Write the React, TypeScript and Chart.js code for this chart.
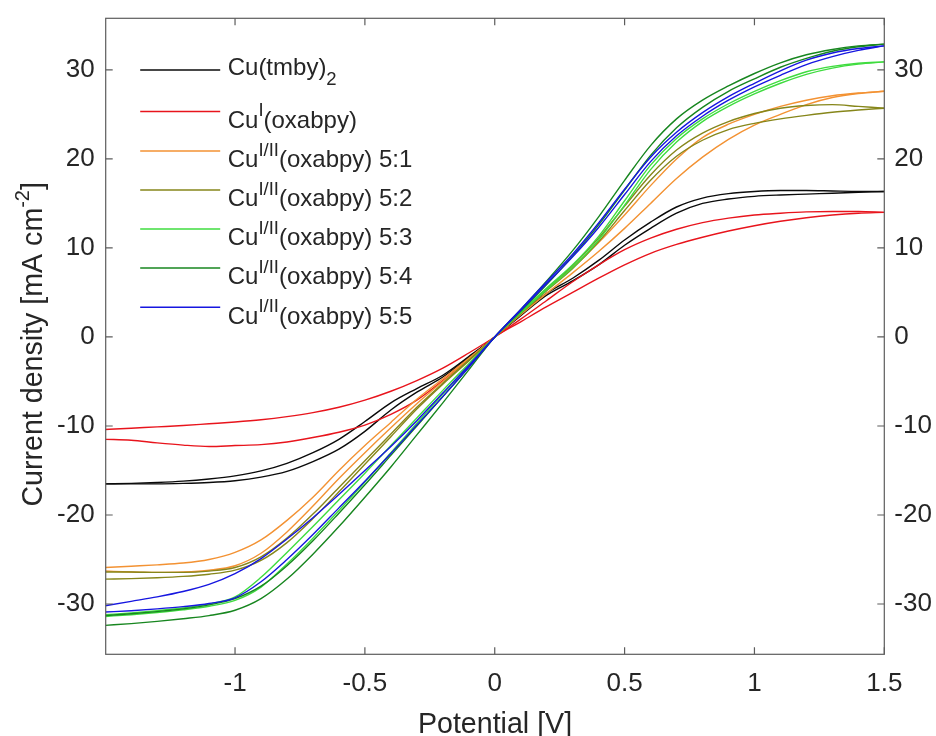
import React, { useEffect, useRef } from 'react';
import { Chart, registerables } from 'chart.js';

Chart.register(...registerables);

// ---------- data ----------
const potential = [
  -1.5, -1.4, -1.3, -1.2, -1.1, -1.0, -0.9, -0.8, -0.7, -0.6, -0.5, -0.4, -0.3, -0.2, -0.1, 0,
  0.1, 0.2, 0.3, 0.4, 0.5, 0.6, 0.7, 0.8, 0.9, 1.0, 1.1, 1.2, 1.3, 1.4, 1.5,
];

const seriesLabels = [
  'Cu(tmby)_2',
  'Cu^I(oxabpy)',
  'Cu^{I/II}(oxabpy) 5:1',
  'Cu^{I/II}(oxabpy) 5:2',
  'Cu^{I/II}(oxabpy) 5:3',
  'Cu^{I/II}(oxabpy) 5:4',
  'Cu^{I/II}(oxabpy) 5:5',
];

const seriesColors = ['#0a0a0a', '#e8141c', '#f39233', '#86861a', '#3fdc3f', '#17861f', '#1616e0'];

const tmbyForward = [-16.5, -16.45, -16.35, -16.2, -15.95, -15.6, -15.05, -14.2, -13.0, -11.5, -9.5, -7.4, -5.8, -4.3, -2.2, 0,
  2.5, 4.9, 6.6, 8.6, 10.9, 12.9, 14.6, 15.6, 16.1, 16.35, 16.45, 16.45, 16.4, 16.35, 16.35];
const tmbyReverse = [-16.5, -16.5, -16.5, -16.45, -16.35, -16.15, -15.75, -15.1, -14.0, -12.6, -10.6, -8.2, -6.2, -4.5, -2.3, 0,
  2.4, 4.7, 6.3, 8.1, 10.3, 12.2, 13.9, 15.0, 15.5, 15.8, 15.95, 16.05, 16.15, 16.25, 16.35];

const oxabpyForward = [-10.4, -10.25, -10.1, -9.95, -9.75, -9.55, -9.3, -8.95, -8.5, -7.9, -7.1, -6.1, -4.9, -3.5, -1.8, 0,
  2.0, 4.1, 6.2, 8.1, 9.8, 11.1, 12.1, 12.85, 13.35, 13.7, 13.9, 14.05, 14.1, 14.1, 14.0];
const oxabpyReverse = [-11.5, -11.6, -11.9, -12.15, -12.3, -12.2, -12.1, -11.8, -11.3, -10.7, -9.9, -8.7, -7.1, -4.9, -2.5, 0,
  1.7, 3.4, 5.0, 6.6, 8.1, 9.4, 10.4, 11.2, 11.9, 12.5, 13.0, 13.4, 13.7, 13.9, 14.0];

const ratio51Forward = [-25.9, -25.75, -25.6, -25.4, -25.0, -24.2, -22.8, -20.6, -18.0, -15.0, -12.2, -9.6, -7.0, -4.7, -2.4, 0,
  2.7, 5.3, 7.8, 10.6, 13.7, 17.0, 20.0, 22.4, 23.9, 25.0, 25.9, 26.6, 27.1, 27.4, 27.6];
const ratio51Reverse = [-26.3, -26.4, -26.45, -26.4, -26.2, -25.7, -24.3, -21.9, -19.0, -15.9, -13.0, -10.2, -7.5, -5.0, -2.5, 0,
  2.5, 4.9, 7.2, 9.6, 12.2, 15.0, 17.8, 20.2, 22.2, 23.8, 25.0, 26.1, 26.9, 27.35, 27.6];

const ratio52Forward = [-26.4, -26.4, -26.45, -26.45, -26.3, -25.9, -24.7, -22.6, -19.9, -16.9, -13.9, -10.9, -7.9, -5.2, -2.6, 0,
  2.7, 5.4, 8.0, 11.1, 14.7, 18.2, 21.0, 22.9, 24.2, 25.1, 25.7, 26.0, 26.1, 25.9, 25.7];
const ratio52Reverse = [-27.2, -27.15, -27.05, -26.9, -26.65, -26.2, -25.1, -23.1, -20.4, -17.4, -14.3, -11.2, -8.1, -5.3, -2.7, 0,
  2.6, 5.2, 7.7, 10.7, 14.2, 17.6, 20.3, 22.1, 23.3, 24.0, 24.5, 24.9, 25.25, 25.5, 25.7];

const ratio53Forward = [-31.2, -31.0, -30.75, -30.45, -30.0, -29.2, -27.0, -24.2, -21.3, -18.3, -15.3, -12.2, -9.1, -6.0, -3.0, 0,
  2.8, 5.5, 8.1, 11.3, 15.3, 19.3, 22.3, 24.5, 26.2, 27.6, 28.8, 29.8, 30.4, 30.75, 30.9];
const ratio53Reverse = [-31.4, -31.2, -30.95, -30.65, -30.25, -29.6, -28.1, -25.5, -22.6, -19.5, -16.3, -13.0, -9.7, -6.4, -3.2, 0,
  2.7, 5.3, 7.8, 10.9, 14.8, 18.8, 21.9, 24.2, 25.9, 27.3, 28.5, 29.5, 30.2, 30.65, 30.9];

const ratio54Forward = [-31.3, -31.1, -30.85, -30.55, -30.1, -29.4, -28.0, -25.7, -22.9, -19.8, -16.6, -13.3, -10.0, -6.7, -3.4, 0,
  3.1, 6.3, 9.7, 13.5, 17.6, 21.5, 24.5, 26.6, 28.2, 29.6, 30.8, 31.7, 32.3, 32.7, 32.9];
const ratio54Reverse = [-32.4, -32.2, -31.95, -31.65, -31.3, -30.7, -29.4, -27.2, -24.4, -21.3, -18.0, -14.6, -11.0, -7.4, -3.7, 0,
  2.9, 5.9, 9.1, 12.6, 16.5, 20.4, 23.5, 25.8, 27.6, 29.0, 30.3, 31.3, 32.1, 32.6, 32.9];

const ratio55Forward = [-30.2, -29.7, -29.2, -28.6, -27.8, -26.6, -24.9, -22.7, -20.3, -17.7, -15.0, -12.3, -9.4, -6.3, -3.2, 0,
  3.1, 6.2, 9.3, 12.8, 16.6, 20.2, 23.0, 25.2, 27.0, 28.5, 29.9, 31.1, 31.9, 32.4, 32.7];
const ratio55Reverse = [-30.9, -30.75, -30.55, -30.3, -29.95, -29.3, -27.5, -25.0, -22.2, -19.2, -16.2, -13.1, -9.9, -6.7, -3.4, 0,
  3.0, 6.0, 9.0, 12.3, 16.0, 19.7, 22.6, 24.8, 26.6, 28.1, 29.4, 30.6, 31.5, 32.2, 32.7];

const seriesSweeps = [
  [tmbyForward, tmbyReverse],
  [oxabpyForward, oxabpyReverse],
  [ratio51Forward, ratio51Reverse],
  [ratio52Forward, ratio52Reverse],
  [ratio53Forward, ratio53Reverse],
  [ratio54Forward, ratio54Reverse],
  [ratio55Forward, ratio55Reverse],
];

const xTickValues = [-1, -0.5, 0, 0.5, 1, 1.5];
const yTickValues = [-30, -20, -10, 0, 10, 20, 30];
const xRange = [-1.498, 1.5];
const yRange = [-35.65, 35.8];
const xAxisTitle = 'Potential [V]';
const yAxisTitle = 'Current density [mA cm^{-2}]';

// ---------- helpers ----------
const FONT = "'Liberation Sans', Arial, Helvetica, sans-serif";
const TEXT_COLOR = '#262626';
const AXIS_COLOR = '#5c5c5c';

type Seg = { t: string; k: 'n' | 'sup' | 'sub' };

function parseRich(s: string): Seg[] {
  const out: Seg[] = [];
  let buf = '';
  let i = 0;
  while (i < s.length) {
    const c = s[i];
    if (c === '^' || c === '_') {
      if (buf) { out.push({ t: buf, k: 'n' }); buf = ''; }
      const k = c === '^' ? 'sup' : 'sub';
      if (s[i + 1] === '{') {
        const j = s.indexOf('}', i + 2);
        out.push({ t: s.slice(i + 2, j), k });
        i = j + 1;
      } else {
        out.push({ t: s[i + 1], k });
        i += 2;
      }
    } else {
      buf += c;
      i++;
    }
  }
  if (buf) out.push({ t: buf, k: 'n' });
  return out;
}

function richWidth(ctx: CanvasRenderingContext2D, segs: Seg[], base: number, script: number) {
  let w = 0;
  for (const s of segs) {
    ctx.font = `${s.k === 'n' ? base : script}px ${FONT}`;
    w += ctx.measureText(s.t).width;
  }
  return w;
}

function drawRich(ctx: CanvasRenderingContext2D, segs: Seg[], x: number, y: number,
  base: number, script: number, rise: number, drop: number) {
  let cx = x;
  for (const s of segs) {
    ctx.font = `${s.k === 'n' ? base : script}px ${FONT}`;
    const dy = s.k === 'sup' ? -rise : s.k === 'sub' ? drop : 0;
    ctx.fillText(s.t, cx, y + dy);
    cx += ctx.measureText(s.t).width;
  }
}

const framePlugin = {
  id: 'matlabFrame',
  afterDraw(chart: any) {
    const { ctx, chartArea: a, scales } = chart;
    const xs = scales.x;
    const ys = scales.y;
    ctx.save();
    // box
    ctx.strokeStyle = AXIS_COLOR;
    ctx.lineWidth = 1.2;
    ctx.strokeRect(a.left, a.top, a.right - a.left, a.bottom - a.top);
    // inward ticks
    const tl = 7;
    ctx.beginPath();
    for (const v of xTickValues) {
      const px = xs.getPixelForValue(v);
      ctx.moveTo(px, a.bottom); ctx.lineTo(px, a.bottom - tl);
      ctx.moveTo(px, a.top); ctx.lineTo(px, a.top + tl);
    }
    for (const v of yTickValues) {
      const py = ys.getPixelForValue(v);
      ctx.moveTo(a.left, py); ctx.lineTo(a.left + tl, py);
      ctx.moveTo(a.right, py); ctx.lineTo(a.right - tl, py);
    }
    ctx.stroke();

    // legend
    ctx.textBaseline = 'alphabetic';
    ctx.textAlign = 'left';
    const rowY = [70, 111.5, 151, 190, 229, 268, 307.3];
    const lx0 = a.left + 34.5;
    const lx1 = a.left + 114.5;
    const tx = a.left + 122;
    seriesLabels.forEach((lab, i) => {
      const y = a.top + rowY[i] - 18.3;
      ctx.strokeStyle = seriesColors[i];
      ctx.lineWidth = 1.4;
      ctx.beginPath();
      ctx.moveTo(lx0, y); ctx.lineTo(lx1, y);
      ctx.stroke();
      const segs = parseRich(lab);
      const hasSup = segs.some((s) => s.k === 'sup');
      ctx.fillStyle = TEXT_COLOR;
      drawRich(ctx, segs, tx, y + (hasSup ? 16.2 : 5.2), 24, 18.5, 11.5, 10);
    });

    // x title
    ctx.fillStyle = TEXT_COLOR;
    ctx.font = `28.6px ${FONT}`;
    ctx.textAlign = 'center';
    ctx.fillText(xAxisTitle, (a.left + a.right) / 2, a.bottom + 79);

    // y title (rotated)
    const segs = parseRich(yAxisTitle);
    const w = richWidth(ctx, segs, 28.6, 20);
    const cy = (a.top + a.bottom) / 2 + 8;
    ctx.save();
    ctx.translate(a.left - 64.2, cy);
    ctx.rotate(-Math.PI / 2);
    ctx.textAlign = 'left';
    drawRich(ctx, segs, -w / 2, 0, 28.6, 20, 12.5, 8);
    ctx.restore();

    ctx.restore();
  },
};

export default function App() {
  const ref = useRef<HTMLCanvasElement | null>(null);

  useEffect(() => {
    if (!ref.current) return;
    const datasets: any[] = [];
    // draw order: first series at the bottom, last on top (Chart.js draws index 0 last)
    for (let s = seriesLabels.length - 1; s >= 0; s--) {
      for (let b = 0; b < 2; b++) {
        datasets.push({
          label: seriesLabels[s] + (b === 0 ? ' (forward)' : ' (reverse)'),
          data: potential.map((v, i) => ({ x: v, y: seriesSweeps[s][b][i] })),
          borderColor: seriesColors[s],
          backgroundColor: seriesColors[s],
          borderWidth: 1.4,
          pointRadius: 0,
          showLine: true,
          fill: false,
          cubicInterpolationMode: 'monotone',
        });
      }
    }

    const tickFont = { family: FONT, size: 26 };
    const chart = new Chart(ref.current, {
      type: 'scatter',
      data: { datasets },
      plugins: [framePlugin],
      options: {
        responsive: false,
        animation: false,
        layout: { padding: { top: 18.3, left: 0, right: 0, bottom: 0 } },
        plugins: { legend: { display: false }, tooltip: { enabled: false } },
        scales: {
          x: {
            type: 'linear',
            position: 'bottom',
            min: xRange[0],
            max: xRange[1],
            afterBuildTicks: (s: any) => { s.ticks = xTickValues.map((v) => ({ value: v })); },
            afterFit: (s: any) => { s.height = 81.7; s.paddingLeft = 0; s.paddingRight = 0; },
            ticks: { font: tickFont, color: TEXT_COLOR, padding: 14, autoSkip: false, maxRotation: 0, callback: (v: any) => String(v) },
            grid: { display: false, drawTicks: false },
            border: { display: false },
          },
          y: {
            type: 'linear',
            position: 'left',
            min: yRange[0],
            max: yRange[1],
            afterBuildTicks: (s: any) => { s.ticks = yTickValues.map((v) => ({ value: v })); },
            afterFit: (s: any) => { s.width = 105.7; s.paddingTop = 0; s.paddingBottom = 0; },
            ticks: { font: tickFont, color: TEXT_COLOR, padding: 11, autoSkip: false, callback: (v: any) => String(v) },
            grid: { display: false, drawTicks: false },
            border: { display: false },
          },
          y2: {
            type: 'linear',
            position: 'right',
            display: true,
            min: yRange[0],
            max: yRange[1],
            afterBuildTicks: (s: any) => { s.ticks = yTickValues.map((v) => ({ value: v })); },
            afterFit: (s: any) => { s.width = 51.7; s.paddingTop = 0; s.paddingBottom = 0; },
            ticks: { font: tickFont, color: TEXT_COLOR, padding: 10, autoSkip: false, callback: (v: any) => String(v) },
            grid: { display: false, drawTicks: false },
            border: { display: false },
          },
        },
      } as any,
    });
    return () => chart.destroy();
  }, []);

  return (
    <div style={{ position: 'absolute', left: 0, top: 0, width: 936, height: 736, background: '#fff' }}>
      <canvas ref={ref} width={936} height={736} style={{ width: 936, height: 736, display: 'block' }} />
    </div>
  );
}
